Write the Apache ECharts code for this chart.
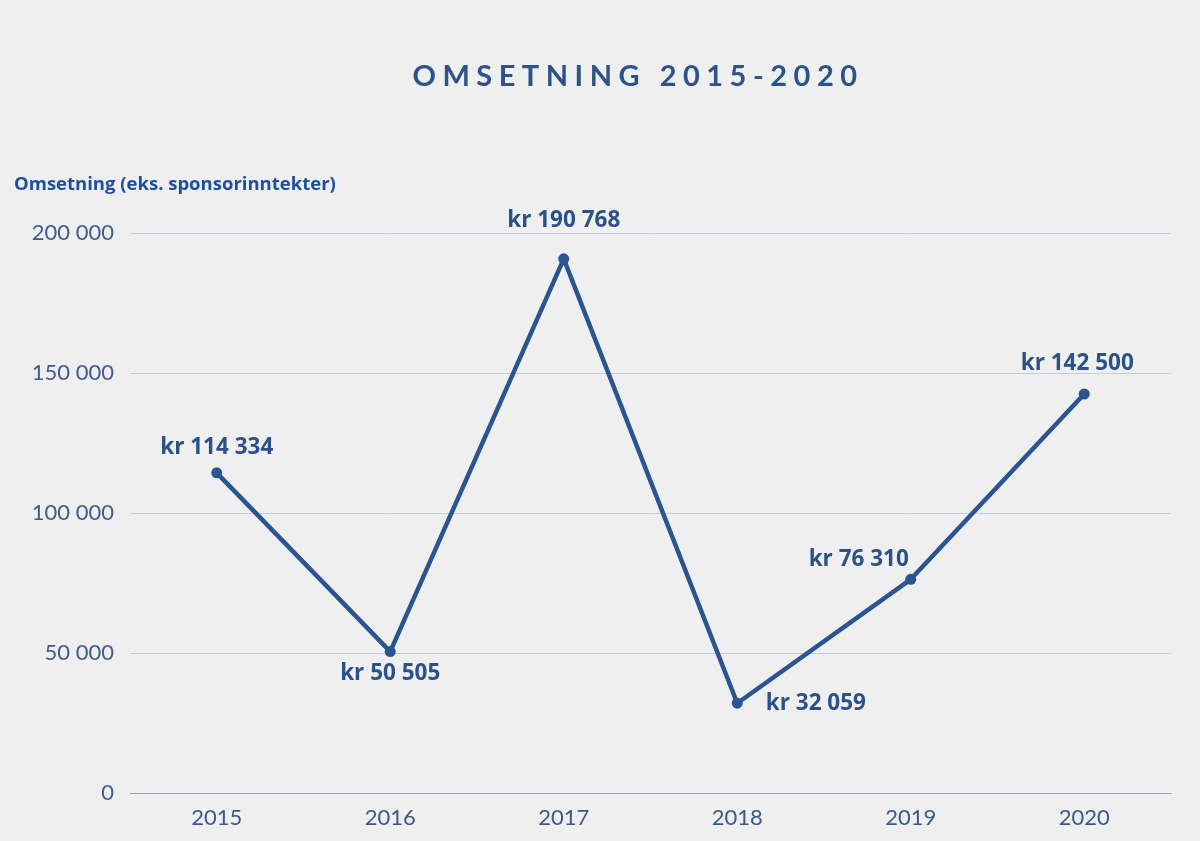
<!DOCTYPE html>
<html>
<head>
<meta charset="utf-8">
<title>Omsetning 2015-2020</title>
<script src="https://cdn.jsdelivr.net/npm/echarts@6/dist/echarts.min.js"></script>
<style>
    html, body { margin: 0; padding: 0; background: #efefef; }
    #wrap { position: relative; width: 1200px; height: 841px; }
    #chart { width: 1200px; height: 841px; }
    #title {
        position: absolute; left: 0; right: 0; top: 57px;
        padding-left: 76px;
        text-align: center;
        font-family: Lato, sans-serif; font-weight: bold; font-size: 29px;
        letter-spacing: 6.5px; color: #2e5388;
        pointer-events: none;
    }
</style>
</head>
<body>
<div id="wrap">
    <div id="chart"></div>
    <div id="title">OMSETNING 2015-2020</div>
</div>
<script>
// chart data
const years = ['2015', '2016', '2017', '2018', '2019', '2020'];
const revenue = [114334, 50505, 190768, 32059, 76310, 142500];
const yTicks = [0, 50000, 100000, 150000, 200000];

// where each value label sits relative to its point
const labelPlacement = [
    { position: 'top', distance: 8, offset: [0, 0] },
    { position: 'bottom', distance: 5, offset: [0, 0] },
    { position: 'top', distance: 21, offset: [0, 0] },
    { position: 'right', distance: 23, offset: [0, 0] },
    { position: 'top', distance: 3, offset: [-52, 0] },
    { position: 'top', distance: 13, offset: [-7, 0] }
];

// 114334 -> "114 334"
function spaced(n) {
    return String(n).replace(/\B(?=(\d{3})+(?!\d))/g, ' ');
}

const chart = echarts.init(document.getElementById('chart'), null, { renderer: 'canvas' });

const option = {
    backgroundColor: '#efefef',
    animation: false,
    grid: { left: 130, right: 29, top: 233, bottom: 48 },
    xAxis: {
        type: 'category',
        data: years,
        boundaryGap: true,
        axisTick: { show: false },
        axisLine: { lineStyle: { color: '#8fa2bd', width: 1 } },
        axisLabel: {
            color: '#3a5a8a',
            fontFamily: 'Lato',
            fontSize: 22,
            margin: 14
        }
    },
    yAxis: {
        type: 'value',
        min: yTicks[0],
        max: yTicks[yTicks.length - 1],
        interval: 50000,
        name: 'Omsetning (eks. sponsorinntekter)',
        nameLocation: 'end',
        nameGap: 39,
        nameTextStyle: {
            color: '#1d4f9e',
            fontFamily: 'Open Sans',
            fontWeight: 'bold',
            fontSize: 18.5,
            align: 'left',
            padding: [0, 0, 0, -116]
        },
        axisLine: { show: false },
        axisTick: { show: false },
        splitLine: { lineStyle: { color: '#c3cddc', width: 1 } },
        axisLabel: {
            color: '#3d5d8f',
            fontFamily: 'Lato',
            fontSize: 22,
            margin: 16,
            formatter: v => spaced(v)
        }
    },
    series: [{
        type: 'line',
        data: revenue.map((v, i) => ({
            value: v,
            label: labelPlacement[i]
        })),
        symbol: 'circle',
        symbolSize: 11,
        lineStyle: { color: '#2b5591', width: 4.5 },
        itemStyle: { color: '#2b5591' },
        label: {
            show: true,
            color: '#2b5288',
            fontFamily: 'Open Sans',
            fontWeight: 'bold',
            fontSize: 22.5,
            formatter: p => 'kr ' + spaced(p.value)
        },
        emphasis: { disabled: true }
    }]
};

chart.setOption(option);
</script>
</body>
</html>
